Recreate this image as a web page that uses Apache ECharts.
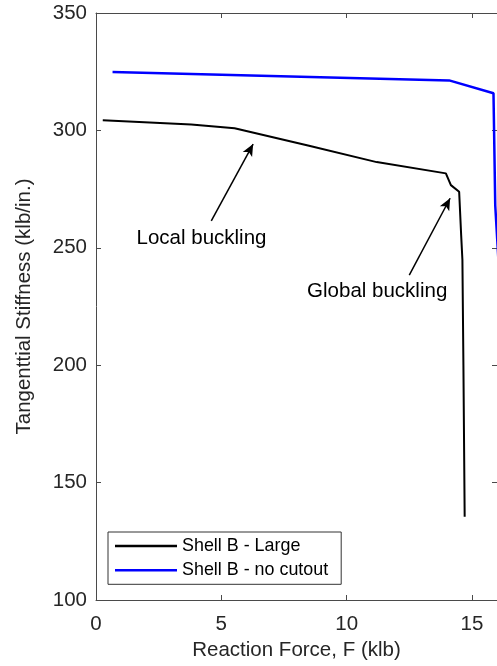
<!DOCTYPE html>
<html>
<head>
<meta charset="utf-8">
<script src="https://cdn.jsdelivr.net/npm/echarts@6/dist/echarts.min.js"></script>
<style>
  html, body { margin: 0; padding: 0; background: #fff; }
  #chart { width: 497px; height: 666px; }
</style>
</head>
<body>
<div id="chart"></div>
<script>
// Shell B with the large cutout: reaction force (klb) vs tangential stiffness (klb/in.)
const forceLarge = [0.27, 3.8, 5.53, 8.5, 11.2, 13.96, 14.16, 14.49, 14.57, 14.62, 14.66, 14.71];
const stiffLarge = [304.3, 302.5, 300.9, 293.5, 286.5, 281.7, 276.7, 273.9, 255.4, 244.8, 200, 135.5];

// Shell B without cutout
const forceNoCut = [0.66, 14.09, 15.86, 15.93, 16.3];
const stiffNoCut = [324.9, 321.3, 315.8, 268, 200];

// Axis ticks
const xTicks = [0, 5, 10, 15];
const yTicks = [100, 150, 200, 250, 300, 350];

// Annotations: arrow tail / head and label anchor, in data units
const noteLabels = ['Local buckling', 'Global buckling'];
const noteTail = [[4.6, 261.5], [12.5, 238.4]];
const noteHead = [[6.27, 294.2], [14.13, 271.1]];
const noteText = [[4.21, 254.0], [11.22, 231.3]];

const seriesNames = ['Shell B - Large', 'Shell B - no cutout'];

const font = 'Liberation Sans, Arial, Helvetica, sans-serif';
const axisColor = '#4a4a4a';
const textColor = '#262626';
const fs = 20.5;

const pairs = (xs, ys) => xs.map((x, i) => [x, ys[i]]);

const chart = echarts.init(document.getElementById('chart'), null, { renderer: 'canvas' });

const xBase = {
  type: 'value', min: 0, max: 16, interval: 5,
  axisLine: { show: true, onZero: false, lineStyle: { color: axisColor, width: 1 } },
  axisTick: { show: true, inside: true, length: 5, lineStyle: { color: axisColor } },
  splitLine: { show: false }
};
const yBase = {
  type: 'value', min: 100, max: 350, interval: 50,
  axisLine: { show: true, onZero: false, lineStyle: { color: axisColor, width: 1 } },
  axisTick: { show: true, inside: true, length: 5, lineStyle: { color: axisColor } },
  splitLine: { show: false }
};

chart.setOption({
  animation: false,
  textStyle: { fontFamily: font },
  grid: { left: 96, top: 13, width: 402, height: 587, containLabel: false },
  xAxis: [
    Object.assign({}, xBase, {
      position: 'bottom',
      name: 'Reaction Force, F (klb)',
      nameLocation: 'middle',
      nameGap: 35,
      nameTextStyle: { fontSize: fs, color: textColor, fontFamily: font },
      axisLabel: {
        fontSize: fs, color: textColor, margin: 14, fontFamily: font,
        showMaxLabel: false,
        formatter: v => (xTicks.indexOf(v) >= 0 ? String(v) : '')
      }
    }),
    Object.assign({}, xBase, { position: 'top', axisLabel: { show: false } })
  ],
  yAxis: [
    Object.assign({}, yBase, {
      position: 'left',
      name: 'Tangenttial Stiffness (klb/in.)',
      nameLocation: 'middle',
      nameGap: 61,
      nameTextStyle: { fontSize: fs, color: textColor, fontFamily: font },
      axisLabel: {
        fontSize: fs, color: textColor, margin: 9, fontFamily: font,
        padding: [4, 0, 0, 0],
        formatter: v => (yTicks.indexOf(v) >= 0 ? String(v) : '')
      }
    }),
    Object.assign({}, yBase, { position: 'right', axisLabel: { show: false } })
  ],
  legend: {
    orient: 'vertical',
    left: 108, top: 532,
    data: seriesNames,
    icon: 'rect',
    itemWidth: 62, itemHeight: 2.5,
    itemGap: 4.3,
    padding: [4, 13, 4, 7],
    borderColor: '#333', borderWidth: 1,
    backgroundColor: '#fff',
    textStyle: { fontSize: 17.9, color: '#000', fontFamily: font, lineHeight: 20 },
    selectedMode: false
  },
  series: [
    {
      name: seriesNames[0], type: 'line', xAxisIndex: 0, yAxisIndex: 0,
      data: pairs(forceLarge, stiffLarge),
      showSymbol: false, symbol: 'none', clip: true,
      lineStyle: { color: '#000', width: 2 },
      itemStyle: { color: '#000' },
      z: 3,
      markLine: {
        silent: true,
        symbol: ['none', 'arrow'],
        symbolSize: [8, 12],
        label: { show: false },
        lineStyle: { color: '#000', width: 1.5, type: 'solid' },
        data: noteTail.map((t, i) => [{ coord: t }, { coord: noteHead[i] }])
      },
      markPoint: {
        silent: true,
        symbol: 'circle', symbolSize: 0,
        label: {
          show: true, position: 'inside', color: '#000',
          fontSize: fs, fontFamily: font,
          formatter: p => p.name
        },
        data: noteText.map((c, i) => ({ name: noteLabels[i], coord: c }))
      }
    },
    {
      name: seriesNames[1], type: 'line', xAxisIndex: 0, yAxisIndex: 0,
      data: pairs(forceNoCut, stiffNoCut),
      showSymbol: false, symbol: 'none', clip: true,
      lineStyle: { color: '#0000ff', width: 2.5 },
      itemStyle: { color: '#0000ff' },
      z: 3
    }
  ]
});
</script>
</body>
</html>
